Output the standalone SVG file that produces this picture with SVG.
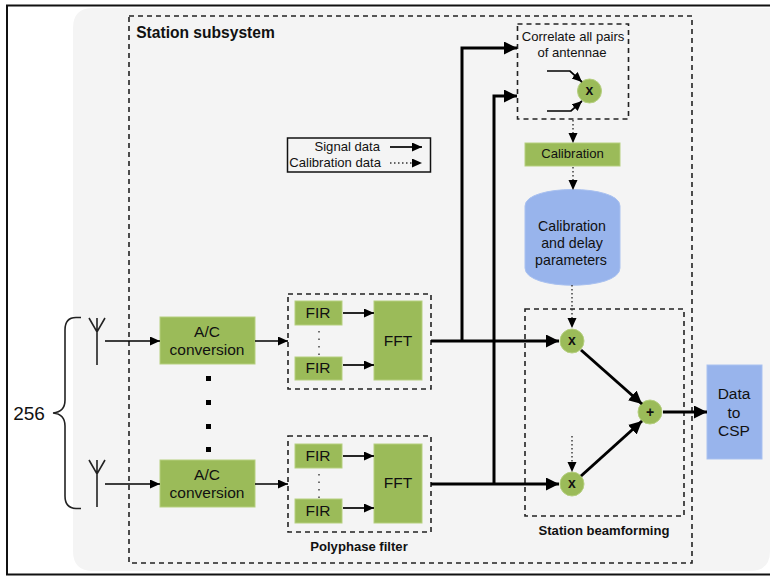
<svg xmlns="http://www.w3.org/2000/svg" width="770" height="578" viewBox="0 0 770 578">
<defs>
<marker id="ah" markerUnits="userSpaceOnUse" markerWidth="12" markerHeight="10" refX="10" refY="4.500" orient="auto"><path d="M0 0L10 4.500L0 9Z" fill="#000"/></marker>
<marker id="ahb" markerUnits="userSpaceOnUse" markerWidth="14" markerHeight="14" refX="13" refY="6.500" orient="auto"><path d="M0 0L13 6.500L0 13Z" fill="#000"/></marker>
</defs>
<style>
text{font-family:"Liberation Sans",Arial,sans-serif;fill:#111;text-anchor:middle;dominant-baseline:central}
.g{fill:#9bbb59;stroke:#b5cf7f;stroke-width:1}
.b{fill:#98b4ec;stroke:#a9c1f0;stroke-width:1}
.d{fill:none;stroke:#222;stroke-width:1.600;stroke-dasharray:5 4}
.t{font-size:15.500px}
.s{font-size:13.100px}
.p{font-size:14.200px}
.bd{font-size:13.100px;font-weight:bold}
.m{font-size:14px;font-weight:bold}
.l{fill:none;stroke:#000;stroke-width:1.700;marker-end:url(#ah)}
.h{fill:none;stroke:#000;stroke-width:3;marker-end:url(#ahb)}
.o{fill:none;stroke:#333;stroke-width:1.400;stroke-dasharray:1.500 2.500;marker-end:url(#ah)}
.a{fill:none;stroke:#222;stroke-width:1.600}
</style>
<rect x="0" y="0" width="770" height="578" fill="#fff"/>
<g id="frame"><path d="M770 5.500H7V574.500H770" fill="none" stroke="#111" stroke-width="2"/>
<path d="M770 8H93Q73 8 73 28V551Q73 571 93 571H750Q770 571 770 551Z" fill="#f4f4f4"/></g>
<g id="station-subsystem"><rect class="d" x="129" y="16" width="563" height="547"/><text x="205.500" y="32" font-size="15.600" font-weight="bold">Station subsystem</text></g>
<g id="legend"><rect x="287.500" y="138" width="143" height="34" fill="none" stroke="#111" stroke-width="1.500"/><text x="380" y="146.500" class="s" style="text-anchor:end">Signal data</text><text x="381" y="162.500" class="s" style="text-anchor:end">Calibration data</text></g>
<g id="brace"><path class="a" d="M81 317.500H76Q65 317.500 65 330V400Q65 412 53 413Q65 414 65 426V496Q65 508 76 508.500H81"/><text x="29" y="413" font-size="19">256</text></g>
<g id="antenna-1"><path class="a" d="M97 365V332M89 318L97 332L105 318M97 318V332"/></g>
<g id="antenna-2"><path class="a" d="M97 507V474M89 460L97 474L105 460M97 460V474"/></g>
<g id="ac-1"><rect class="g" x="160" y="317" width="95" height="47"/><text class="t" x="207" y="331.500">A/C</text><text class="t" x="207" y="349.500">conversion</text></g>
<g id="ac-2"><rect class="g" x="160" y="460" width="95" height="47"/><text class="t" x="207" y="474.500">A/C</text><text class="t" x="207" y="492.500">conversion</text></g>
<g id="ellipsis"><g fill="#000"><rect x="206" y="376" width="5" height="5"/><rect x="206" y="400" width="5" height="5"/><rect x="206" y="424" width="5" height="5"/><rect x="206" y="447" width="5" height="5"/></g></g>
<g id="polyphase-1"><rect class="d" x="288" y="294" width="143" height="95"/>
<rect class="g" x="295" y="301" width="47" height="24"/><text class="t" x="318" y="312.500">FIR</text>
<rect class="g" x="295" y="357" width="47" height="23"/><text class="t" x="318" y="367.500">FIR</text>
<rect class="g" x="374" y="301" width="48" height="79"/><text class="t" x="398" y="340.500">FFT</text>
<path d="M319 331V357" stroke="#444" stroke-width="1.500" stroke-dasharray="1.500 6" fill="none"/></g>
<g id="polyphase-2"><rect class="d" x="288" y="436" width="143" height="96"/>
<rect class="g" x="295" y="444" width="47" height="24"/><text class="t" x="318" y="455.500">FIR</text>
<rect class="g" x="295" y="499" width="47" height="24"/><text class="t" x="318" y="510.500">FIR</text>
<rect class="g" x="374" y="444" width="48" height="79"/><text class="t" x="398" y="482.500">FFT</text>
<path d="M319 474V500" stroke="#444" stroke-width="1.500" stroke-dasharray="1.500 6" fill="none"/><text class="bd" x="359" y="546">Polyphase filter</text></g>
<g id="correlate"><rect class="d" x="517.500" y="24" width="111" height="95"/><text x="573" y="36" class="s">Correlate all pairs</text><text x="572" y="52" class="s">of antennae</text>
<circle class="g" cx="589.500" cy="91" r="12"/><text x="589.500" y="90" class="m">x</text></g>
<g id="calibration"><rect class="g" x="525" y="143" width="95" height="23"/><text x="572.500" y="153.500" class="s">Calibration</text></g>
<g id="parameters"><path class="b" d="M525 206C525 184 620 184 620 206V268C620 291 525 291 525 268Z"/><text x="572" y="226" class="p">Calibration</text><text x="572" y="243" class="p">and delay</text><text x="571" y="260" class="p">parameters</text></g>
<g id="beamforming"><rect class="d" x="525" y="309" width="159" height="207"/><text class="bd" x="604" y="530">Station beamforming</text></g>
<g id="mult-1"><circle class="g" cx="572" cy="341" r="12"/><text x="572" y="340" class="m">x</text></g>
<g id="mult-2"><circle class="g" cx="572" cy="484" r="12"/><text x="572" y="483" class="m">x</text></g>
<g id="sum"><circle class="g" cx="650" cy="412" r="12"/><text x="650" y="412" class="m">+</text></g>
<g id="data-csp"><rect class="b" x="707" y="365" width="55" height="94"/><text class="t" x="734" y="393">Data</text><text class="t" x="734" y="412">to</text><text class="t" x="734" y="430">CSP</text></g>
<g id="connectors">
<path class="l" d="M105 341H160"/><path class="l" d="M105 484H160"/>
<path class="l" d="M255 341H288"/><path class="l" d="M255 484H288"/>
<path class="l" d="M343 313H374"/><path class="l" d="M343 365H374"/><path class="l" d="M343 456H374"/><path class="l" d="M343 508H374"/>
<path class="h" d="M431 341H559"/><path class="h" d="M431 484H559"/>
<path class="h" d="M462 341V48H517"/><path class="h" d="M494 484V96H517"/>
<path class="l" d="M547 71H570L582 82"/><path class="l" d="M547 111H571L582 101"/>
<path class="o" d="M573 120V143"/><path class="o" d="M573 167V190"/><path class="o" d="M572 285V328"/><path class="o" d="M572 436V472"/>
<path class="h" d="M581 350L642 404"/><path class="h" d="M581 476L642 421"/><path class="h" d="M663 412H707"/>
<path class="l" d="M390 147H422"/><path class="o" d="M390 163H422"/>
</g>
</svg>
